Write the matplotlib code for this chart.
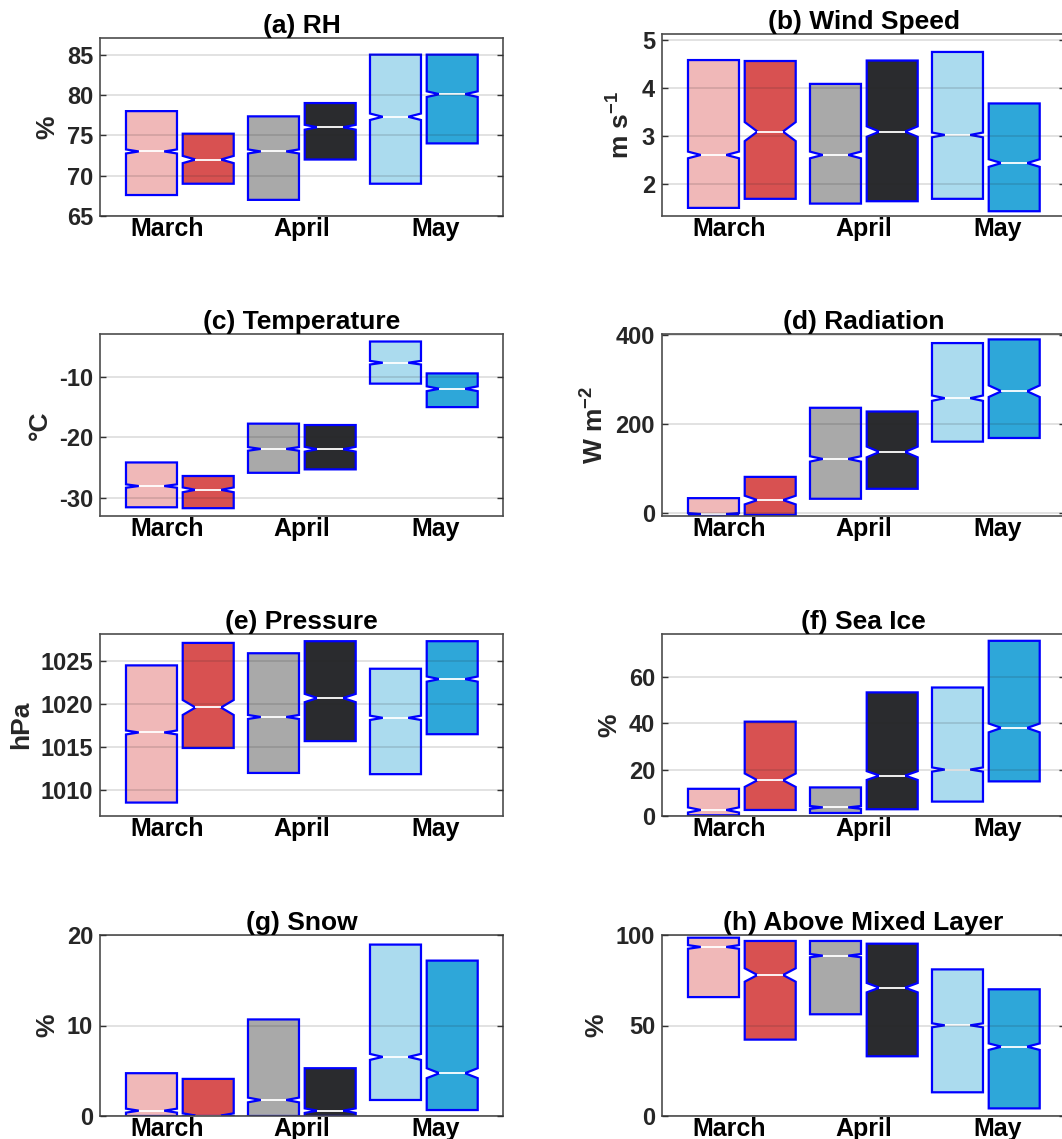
import matplotlib
matplotlib.use('Agg')
import matplotlib.pyplot as plt

plt.rcParams['font.family'] = ['Liberation Sans', 'DejaVu Sans']
plt.rcParams['font.weight'] = 'bold'
plt.rcParams['mathtext.fontset'] = 'custom'
plt.rcParams['mathtext.rm'] = 'Liberation Sans:bold'
plt.rcParams['mathtext.default'] = 'rm'
plt.rcParams['axes.unicode_minus'] = False

# ---------------- data ----------------
months = ['March', 'April', 'May']
box_colors = ['#F0B8B8', '#D85151', '#A9A9A9', '#2A2B2E', '#ABDBEE', '#2EA7D9']

# (a) RH
rh_q3 = [78.0, 75.2, 77.35, 79.0, 85.0, 85.0]
rh_med = [73.0, 72.0, 73.0, 76.0, 77.3, 80.1]
rh_q1 = [67.6, 69.0, 67.0, 72.0, 69.0, 74.0]
rh_ci = [0.25, 0.45, 0.25, 0.3, 0.4, 0.35]

# (b) Wind speed
ws_q3 = [4.59, 4.57, 4.09, 4.58, 4.76, 3.68]
ws_med = [2.6, 3.09, 2.6, 3.09, 3.02, 2.43]
ws_q1 = [1.49, 1.68, 1.58, 1.63, 1.68, 1.42]
ws_ci = [0.07, 0.2, 0.07, 0.11, 0.05, 0.08]

# (c) Temperature
t_q3 = [-24.15, -26.4, -17.7, -17.93, -4.05, -9.35]
t_med = [-28.07, -28.7, -21.9, -21.95, -7.57, -11.9]
t_q1 = [-31.6, -31.75, -25.87, -25.3, -11.05, -14.95]
t_ci = [0.28, 0.4, 0.3, 0.4, 0.3, 0.4]

# (d) Radiation
rad_q3 = [34.0, 81.6, 236.3, 228.0, 381.2, 389.4]
rad_med = [-1.5, 29.7, 121.8, 137.4, 257.8, 273.4]
rad_q1 = [-3.5, -3.5, 32.6, 54.9, 160.5, 168.7]
rad_ci = [2.0, 9.7, 6.0, 12.0, 6.0, 13.0]

# (e) Pressure
p_q3 = [1024.49, 1027.1, 1025.9, 1027.3, 1024.1, 1027.3]
p_med = [1016.7, 1019.6, 1018.5, 1020.7, 1018.4, 1022.9]
p_q1 = [1008.56, 1014.9, 1012.0, 1015.7, 1011.86, 1016.5]
p_ci = [0.23, 0.87, 0.23, 0.48, 0.25, 0.3]

# (f) Sea ice
si_q3 = [11.7, 40.6, 12.3, 53.2, 55.3, 75.4]
si_med = [2.6, 15.4, 3.7, 17.4, 20.0, 37.9]
si_q1 = [0.3, 2.6, 1.3, 2.9, 6.2, 14.9]
si_ci = [1.1, 2.9, 0.6, 1.9, 0.9, 1.9]

# (g) Snow
sn_q3 = [4.73, 4.1, 10.67, 5.28, 18.94, 17.17]
sn_med = [0.59, 0.05, 1.77, 0.59, 6.53, 4.73]
sn_q1 = [0.0, 0.0, 0.0, 0.0, 1.77, 0.66]
sn_ci = [0.22, 0.25, 0.26, 0.25, 0.33, 0.55]

# (h) Above mixed layer
ml_q3 = [98.5, 96.7, 96.7, 95.2, 81.0, 70.0]
ml_med = [93.4, 77.9, 88.6, 70.9, 50.1, 38.3]
ml_q1 = [65.7, 42.2, 56.2, 33.0, 13.1, 4.2]
ml_ci = [1.0, 3.7, 0.9, 2.6, 1.1, 1.8]

titles = ['(a) RH', '(b) Wind Speed', '(c) Temperature', '(d) Radiation',
          '(e) Pressure', '(f) Sea Ice', '(g) Snow', '(h) Above Mixed Layer']
ylabels = ['%', r'm s$^{-1}$', '°C', r'W m$^{-2}$', 'hPa', '%', '%', '%']
yticks = [[65, 70, 75, 80, 85], [2, 3, 4, 5], [-30, -20, -10], [0, 200, 400],
          [1010, 1015, 1020, 1025], [0, 20, 40, 60], [0, 10, 20], [0, 50, 100]]
ylims = [(65, 87.1), (1.32, 5.13), (-33.0, -2.8), (-5.3, 401.5),
         (1007.0, 1028.1), (0, 78.2), (0, 20), (0, 100)]

panel_data = [
    (rh_q1, rh_med, rh_q3, rh_ci),
    (ws_q1, ws_med, ws_q3, ws_ci),
    (t_q1, t_med, t_q3, t_ci),
    (rad_q1, rad_med, rad_q3, rad_ci),
    (p_q1, p_med, p_q3, p_ci),
    (si_q1, si_med, si_q3, si_ci),
    (sn_q1, sn_med, sn_q3, sn_ci),
    (ml_q1, ml_med, ml_q3, ml_ci),
]

# ---------------- layout ----------------
W, H = 1062, 1139
fig = plt.figure(figsize=(W / 100, H / 100), dpi=100)

col_left = [100, 662]
ax_w = 403
rows_px = [(37.7, 216), (34.3, 216), (334, 515.7), (334, 515.7),
           (634.3, 816), (634.3, 816), (935, 1116), (935, 1116)]

positions = [1.0, 1.465, 2.0, 2.465, 3.0, 3.465]
box_width = 0.418
month_ticks = [1.125, 2.23, 3.33]
xlim = (0.578, 0.578 + ax_w / 122.0)

for i in range(8):
    top, bot = rows_px[i]
    left = col_left[i % 2]
    ax = fig.add_axes([left / W, 1 - bot / H, ax_w / W, (bot - top) / H])
    q1, med, q3, ci = panel_data[i]
    stats = []
    for k in range(6):
        stats.append(dict(med=med[k], q1=q1[k], q3=q3[k],
                          cilo=med[k] - ci[k], cihi=med[k] + ci[k],
                          whislo=q1[k], whishi=q3[k], fliers=[]))
    bp = ax.bxp(stats, positions=positions, widths=box_width,
                patch_artist=True, shownotches=True, showcaps=False,
                showfliers=False, manage_ticks=False,
                boxprops=dict(edgecolor='#0000FF', linewidth=1.6),
                medianprops=dict(color='white', linewidth=1.3),
                whiskerprops=dict(linewidth=0))
    for patch, c in zip(bp['boxes'], box_colors):
        patch.set_facecolor(c)
    ax.set_xlim(*xlim)
    ax.set_ylim(*ylims[i])
    ax.set_yticks(yticks[i])
    ax.set_xticks(month_ticks)
    ax.set_xticklabels(months)
    ax.yaxis.grid(True, color='#262626', alpha=0.15, linewidth=1.3)
    ax.set_axisbelow(False)
    ax.tick_params(axis='y', direction='in', left=True, right=True, length=4,
                   width=1.0, color='#333333', labelsize=17, pad=5,
                   labelcolor='#262626')
    ax.tick_params(axis='x', length=0, labelsize=18, pad=1, labelcolor='black')
    for sp in ax.spines.values():
        sp.set_color('#4D4D4D')
        sp.set_linewidth(1.2)
    ax.set_title(titles[i], fontsize=19, fontweight='bold', pad=3)
    ax.set_ylabel(ylabels[i], fontsize=19, fontweight='bold', labelpad=5,
                  color='#262626')

fig.savefig('out.png', dpi=100)
